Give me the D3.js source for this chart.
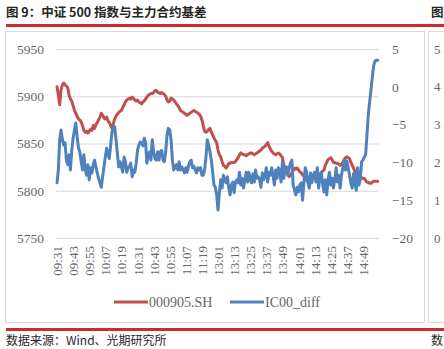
<!DOCTYPE html>
<html>
<head>
<meta charset="utf-8">
<script src="https://cdn.jsdelivr.net/npm/d3@7"></script>
<style>
  html, body { margin: 0; padding: 0; background: #fff; }
  svg { display: block; }
</style>
</head>
<body>
<svg id="chart" width="444" height="349"></svg>
<script>
// ---------------- DATA ----------------
const titleText = "图 9：中证 500 指数与主力合约基差";
const sourceText = "数据来源：Wind、光期研究所";
const seriesNames = ["000905.SH", "IC00_diff"];

// trading sessions (minute bars): 09:31-11:30, 13:01-15:00
const sessions = [["09:31", 120], ["13:01", 120]];

const tickLabels = ["09:31","09:43","09:55","10:07","10:19","10:31","10:43","10:55","11:07","11:19",
                    "13:01","13:13","13:25","13:37","13:49","14:01","14:13","14:25","14:37","14:49"];

const leftTicks = [5750, 5800, 5850, 5900, 5950];
const rightTicks = [-20, -15, -10, -5, 0, 5];
const sideTicks = [0, 1, 2, 3, 4, 5];

// 000905.SH index level (left axis)
const indexValues = [
5910,5901,5891,5907,5912,5914,5912,5911,5909,5901,
5897,5895,5890,5885,5882,5879,5876,5875,5873,5869,
5864,5862,5863,5861,5863,5865,5864,5869,5866,5870,
5872,5875,5878,5882,5880,5877,5876,5878,5874,5872,
5869,5866,5871,5876,5879,5881,5883,5884,5885,5888,
5891,5894,5896,5897,5898,5897,5899,5898,5896,5895,
5896,5894,5893,5892,5894,5895,5897,5899,5901,5902,
5903,5903,5904,5906,5906,5904,5904,5903,5904,5903,
5902,5900,5896,5894,5895,5898,5897,5896,5894,5892,
5890,5888,5885,5884,5883,5882,5881,5880,5881,5882,
5883,5884,5885,5884,5883,5882,5881,5879,5875,5869,
5863,5862,5863,5865,5866,5862,5859,5856,5853,5851,
5843,5838,5836,5831,5827,5826,5824,5826,5829,5829,
5830,5830,5830,5831,5833,5835,5838,5840,5839,5838,
5838,5837,5838,5839,5840,5840,5839,5838,5839,5840,
5841,5842,5843,5845,5846,5847,5849,5851,5847,5844,
5842,5840,5839,5838,5839,5840,5839,5837,5835,5828,
5823,5819,5817,5815,5816,5819,5821,5824,5823,5824,
5822,5820,5819,5817,5815,5814,5811,5813,5814,5815,
5814,5814,5814,5815,5815,5816,5818,5819,5821,5822,
5827,5830,5833,5834,5835,5833,5830,5830,5829,5829,
5828,5827,5828,5830,5833,5835,5836,5835,5834,5830,
5827,5824,5820,5817,5815,5814,5814,5814,5813,5813,
5811,5809,5809,5808,5808,5809,5810,5810,5810,5810
];

// IC00 basis (right axis)
const diffValues = [
-12.7,-11.0,-7.0,-5.7,-7.0,-7.7,-7.4,-9.7,-10.3,-9.0,
-11.0,-8.4,-6.8,-5.7,-4.8,-6.6,-8.1,-8.6,-9.9,-11.0,
-9.0,-10.7,-11.7,-10.3,-12.3,-10.7,-11.4,-10.3,-9.7,-10.6,
-11.4,-12.1,-12.7,-13.3,-11.9,-10.6,-9.3,-8.1,-9.0,-9.5,
-7.7,-6.0,-5.2,-5.3,-7.0,-8.8,-10.6,-9.9,-10.6,-11.3,
-9.3,-9.9,-11.3,-10.7,-10.5,-10.1,-11.9,-11.0,-11.3,-10.1,
-8.4,-7.7,-7.3,-7.4,-7.8,-6.8,-7.3,-10.1,-9.0,-8.6,
-9.7,-7.0,-8.6,-9.5,-9.7,-8.6,-9.7,-8.6,-8.4,-9.7,
-9.9,-8.6,-6.4,-5.5,-5.7,-7.0,-9.7,-11.0,-10.6,-10.3,
-11.0,-9.9,-11.0,-10.6,-11.0,-11.4,-10.7,-11.3,-10.5,-9.9,
-9.7,-10.7,-10.5,-11.0,-11.4,-10.7,-11.0,-10.7,-11.7,-11.7,
-11.0,-9.3,-7.0,-7.7,-8.6,-9.7,-11.3,-13.0,-13.3,-14.3,
-16.3,-14.0,-12.3,-13.4,-11.7,-12.3,-12.7,-11.9,-13.4,-14.3,
-13.0,-12.6,-14.0,-12.6,-12.3,-12.7,-11.3,-13.0,-12.1,-13.4,
-12.3,-11.3,-12.6,-11.3,-12.3,-12.7,-11.5,-12.6,-11.0,-12.1,
-11.9,-12.3,-13.3,-11.4,-12.3,-11.7,-10.7,-12.6,-11.3,-11.7,
-10.7,-11.7,-13.0,-11.0,-12.1,-10.7,-11.0,-12.6,-9.9,-12.1,
-11.0,-10.6,-11.7,-10.7,-10.1,-9.7,-13.0,-13.7,-14.3,-13.3,
-13.9,-13.0,-12.7,-15.0,-12.6,-10.7,-11.3,-12.7,-13.4,-11.4,
-12.7,-11.7,-11.3,-12.6,-10.7,-13.4,-11.7,-11.3,-13.0,-13.9,
-12.3,-14.3,-12.3,-11.3,-13.0,-12.1,-13.4,-12.3,-10.7,-12.6,
-11.7,-13.4,-11.7,-10.7,-9.7,-11.0,-9.8,-10.7,-11.7,-12.7,
-13.4,-11.5,-12.6,-13.7,-10.7,-13.0,-12.3,-9.9,-9.7,-9.3,
-9.0,-6.4,-3.7,-2.0,-0.4,1.3,2.8,3.4,3.5,3.5
];

// minute categories built from the session starts
const categories = [];
sessions.forEach(([start, n]) => {
  let [h, m] = start.split(":").map(Number);
  for (let k = 0; k < n; k++) {
    categories.push(String(h).padStart(2, "0") + ":" + String(m).padStart(2, "0"));
    m++; if (m === 60) { m = 0; h++; }
  }
});

// ---------------- DRAW ----------------
const RED = "#C0504D", BLUE = "#4F81BD", GRID = "#D9D9D9", TXT = "#666666";
const SERIF = "'Liberation Serif', 'Times New Roman', serif";
const CJK = "'Noto Sans CJK SC', sans-serif";

const svg = d3.select("#chart");
svg.append("rect").attr("width", 444).attr("height", 349).attr("fill", "#fff");

// title + rules
svg.append("text").attr("x", 6).attr("y", 17).text(titleText)
  .style("font-family", CJK).style("font-size", "12.5px").style("font-weight", 700).attr("fill", "#262626");
svg.append("text").attr("x", 431).attr("y", 17).text("图")
  .style("font-family", CJK).style("font-size", "12.5px").style("font-weight", 700).attr("fill", "#262626");
svg.append("rect").attr("x", 6).attr("y", 24).attr("width", 438).attr("height", 3).attr("fill", "#D2282E");
svg.append("rect").attr("x", 6).attr("y", 328).attr("width", 438).attr("height", 3).attr("fill", "#D2282E");
svg.append("text").attr("x", 6).attr("y", 345).text(sourceText)
  .style("font-family", CJK).style("font-size", "12px").attr("fill", "#262626");
svg.append("text").attr("x", 431).attr("y", 345).text("数")
  .style("font-family", CJK).style("font-size", "12px").attr("fill", "#262626");

// chart frames
svg.append("rect").attr("x", 5.5).attr("y", 31.5).attr("width", 419).attr("height", 291)
  .attr("fill", "none").attr("stroke", GRID);
svg.append("rect").attr("x", 428.5).attr("y", 31.5).attr("width", 40).attr("height", 291)
  .attr("fill", "none").attr("stroke", GRID);

const plotL = 56, plotR = 379, plotT = 49, plotB = 238;

const x = d3.scalePoint().domain(categories).range([57, 377.7]);
const yL = d3.scaleLinear().domain([5750, 5950]).range([plotB, plotT]);
const yR = d3.scaleLinear().domain([-20, 5]).range([plotB, plotT]);
const yS = d3.scaleLinear().domain([0, 5]).range([plotB, plotT]);

// gridlines
const grid = svg.append("g").attr("transform", `translate(${plotL},0)`)
  .call(d3.axisLeft(yL).tickValues(leftTicks).tickSize(-(plotR - plotL)).tickFormat(""));
grid.select(".domain").remove();
grid.selectAll("line").attr("stroke", GRID).attr("stroke-width", 1);

function styleText(sel, size) {
  sel.style("font-family", SERIF).style("font-size", size + "px").attr("fill", TXT);
}

// left axis labels
const gl = svg.append("g").attr("transform", `translate(${plotL},0)`)
  .call(d3.axisLeft(yL).tickValues(leftTicks).tickSize(0).tickPadding(12).tickFormat(d3.format("d")));
gl.select(".domain").remove();
styleText(gl.selectAll("text"), 13.5);

// right axis labels
const gr = svg.append("g").attr("transform", `translate(${plotR},0)`)
  .call(d3.axisRight(yR).tickValues(rightTicks).tickSize(0).tickPadding(13).tickFormat(d3.format("d")));
gr.select(".domain").remove();
styleText(gr.selectAll("text"), 13.5);

// neighbouring chart's axis labels (cut off in the original)
const gs = svg.append("g").attr("transform", `translate(431,0)`)
  .call(d3.axisRight(yS).tickValues(sideTicks).tickSize(0).tickPadding(3).tickFormat(d3.format("d")));
gs.select(".domain").remove();
styleText(gs.selectAll("text"), 13);

// bottom axis labels
const gb = svg.append("g").attr("transform", `translate(0,${plotB})`)
  .call(d3.axisBottom(x).tickValues(tickLabels).tickSize(0));
gb.select(".domain").remove();
styleText(gb.selectAll("text"), 13);
gb.selectAll("text")
  .attr("text-anchor", "end")
  .attr("transform", "translate(0,8) rotate(-90)")
  .attr("x", 0).attr("y", 0).attr("dy", "0.35em");

// lines
const lineL = d3.line().x((d, i) => x(categories[i])).y(d => yL(d));
const lineR = d3.line().x((d, i) => x(categories[i])).y(d => yR(d));
svg.append("path").datum(indexValues).attr("d", lineL)
  .attr("fill", "none").attr("stroke", RED).attr("stroke-width", 3)
  .attr("stroke-linejoin", "round").attr("stroke-linecap", "round");
svg.append("path").datum(diffValues).attr("d", lineR)
  .attr("fill", "none").attr("stroke", BLUE).attr("stroke-width", 3)
  .attr("stroke-linejoin", "round").attr("stroke-linecap", "round");

// legend
const legend = [
  { name: seriesNames[0], color: RED, x0: 114 },
  { name: seriesNames[1], color: BLUE, x0: 230 }
];
const lg = svg.append("g");
legend.forEach(l => {
  lg.append("line").attr("x1", l.x0).attr("x2", l.x0 + 34).attr("y1", 302).attr("y2", 302)
    .attr("stroke", l.color).attr("stroke-width", 3);
  const t = lg.append("text").attr("x", l.x0 + 35).attr("y", 302).attr("dy", "0.35em").text(l.name);
  styleText(t, 14);
});
</script>
</body>
</html>
